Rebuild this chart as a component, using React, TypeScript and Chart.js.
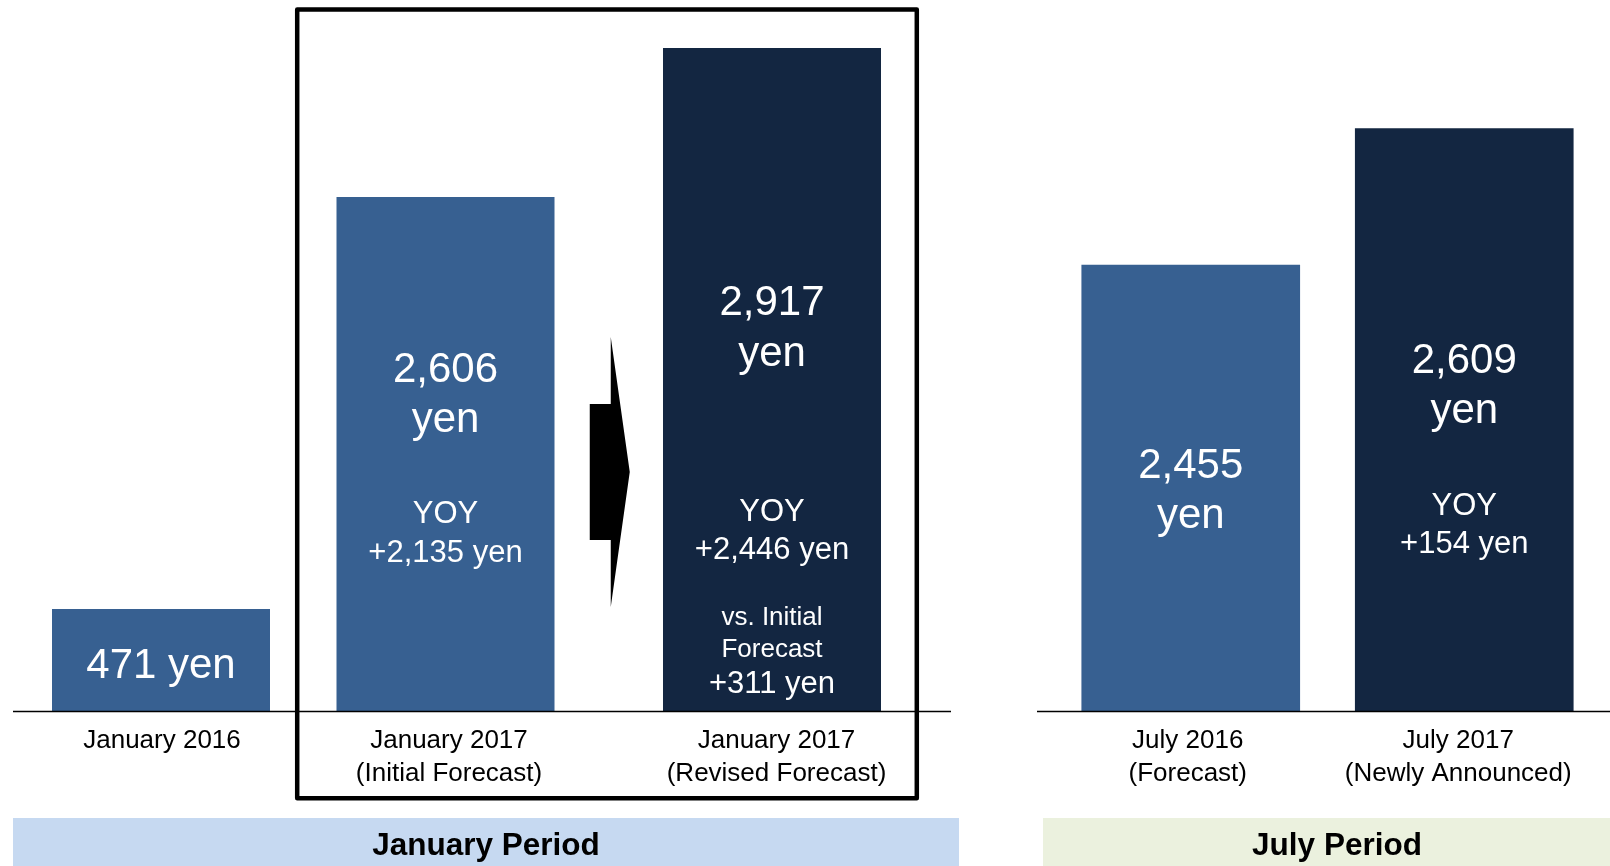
import React, { useEffect, useRef } from 'react';
import { Chart, registerables } from 'chart.js';

Chart.register(...registerables);

// ---------- data ----------
// January period: one bar for 2016, two forecasts (initial / revised) for 2017
const janPeriods = ['January 2016', 'January 2017'];
const janCaptions: string[][] = [
  ['January 2016'],
  ['January 2017', '(Initial Forecast)'],
  ['January 2017', '(Revised Forecast)'],
];
const janPriceYen = [471, 2606, 2917];
const janYoyYen: (number | null)[] = [null, 2135, 2446];
const janVsInitialYen: (number | null)[] = [null, null, 311];
// bar heights as drawn in the source picture (the source bars are not to scale), in yen-axis units
const janActualOrInitialHeights: (number | null)[] = [449, 2261];
const janRevisedHeights: (number | null)[] = [null, 2917];

// July period
const julyPeriods = ['July 2016', 'July 2017'];
const julyCaptions: string[][] = [
  ['July 2016', '(Forecast)'],
  ['July 2017', '(Newly Announced)'],
];
const julyPriceYen = [2455, 2609];
const julyYoyYen: (number | null)[] = [null, 154];
const julyBarHeights = [1962, 2562];

const periodTitles = ['January Period', 'July Period'];
const Y_MAX = 2917;

// ---------- styles ----------
const FONT = '"Liberation Sans", Arial, Helvetica, sans-serif';
const MID_BLUE = '#376091';
const NAVY = '#132641';
const JAN_BAND = '#C6D9F1';
const JULY_BAND = '#EBF1DE';

const fmt = (n: number) => n.toLocaleString('en-US');

type Line = { t: string; size: number; y: number };

const janTexts: Line[][] = [
  [{ t: `${fmt(janPriceYen[0])} yen`, size: 42, y: 678 }],
  [
    { t: fmt(janPriceYen[1]), size: 42, y: 381.5 },
    { t: 'yen', size: 42, y: 431.5 },
    { t: 'YOY', size: 31, y: 523 },
    { t: `+${fmt(janYoyYen[1] as number)} yen`, size: 31, y: 561.5 },
  ],
  [
    { t: fmt(janPriceYen[2]), size: 42, y: 315 },
    { t: 'yen', size: 42, y: 365.5 },
    { t: 'YOY', size: 31, y: 520.5 },
    { t: `+${fmt(janYoyYen[2] as number)} yen`, size: 31, y: 559 },
    { t: 'vs. Initial', size: 26, y: 625 },
    { t: 'Forecast', size: 26, y: 656.5 },
    { t: `+${fmt(janVsInitialYen[2] as number)} yen`, size: 31, y: 693 },
  ],
];

const julyTexts: Line[][] = [
  [
    { t: fmt(julyPriceYen[0]), size: 42, y: 478 },
    { t: 'yen', size: 42, y: 528 },
  ],
  [
    { t: fmt(julyPriceYen[1]), size: 42, y: 372.5 },
    { t: 'yen', size: 42, y: 423 },
    { t: 'YOY', size: 31, y: 515 },
    { t: `+${fmt(julyYoyYen[1] as number)} yen`, size: 31, y: 552.5 },
  ],
];

type PanelCfg = {
  id: string;
  offsetX: number;
  bars: [number, number][]; // [datasetIndex, dataIndex] in drawing order
  captions: string[][];
  captionDx: number[];
  texts: Line[][];
  axis: [number, number];
  band: { x0: number; x1: number; color: string; text: string; textX: number };
  arrow?: boolean;
  box?: { x: number; y: number; w: number; h: number };
};

function makePlugin(cfg: PanelCfg) {
  return {
    id: 'deco_' + cfg.id,
    afterDraw(chart: any) {
      const ctx: CanvasRenderingContext2D = chart.ctx;
      const ox = cfg.offsetX;
      const xs: number[] = cfg.bars.map(([d, i]) => chart.getDatasetMeta(d).data[i].x);
      const yBase: number = chart.scales.y.getPixelForValue(0);
      ctx.save();

      // period band
      ctx.fillStyle = cfg.band.color;
      ctx.fillRect(cfg.band.x0 - ox, 818, cfg.band.x1 - cfg.band.x0, 48);
      ctx.fillStyle = '#000';
      ctx.textAlign = 'center';
      ctx.textBaseline = 'alphabetic';
      ctx.font = `bold 31.5px ${FONT}`;
      ctx.fillText(cfg.band.text, cfg.band.textX - ox, 855);

      // baseline
      ctx.strokeStyle = '#000';
      ctx.lineWidth = 1.5;
      ctx.beginPath();
      ctx.moveTo(cfg.axis[0] - ox, yBase + 0.5);
      ctx.lineTo(cfg.axis[1] - ox, yBase + 0.5);
      ctx.stroke();

      // category captions under each bar
      ctx.fillStyle = '#000';
      ctx.font = `26px ${FONT}`;
      cfg.captions.forEach((lines, i) => {
        lines.forEach((l, j) => ctx.fillText(l, xs[i] + cfg.captionDx[i], yBase + 36.5 + j * 33.5));
      });

      // texts inside bars
      ctx.fillStyle = '#fff';
      cfg.texts.forEach((lines, i) => {
        lines.forEach((l) => {
          ctx.font = `${l.size}px ${FONT}`;
          ctx.fillText(l.t, xs[i], l.y);
        });
      });

      // arrow between bar 2 and bar 3
      if (cfg.arrow && xs.length > 2) {
        const cx = (xs[1] + xs[2]) / 2;
        ctx.fillStyle = '#000';
        ctx.beginPath();
        ctx.moveTo(cx - 19, 404);
        ctx.lineTo(cx + 2, 404);
        ctx.lineTo(cx + 2, 337);
        ctx.lineTo(cx + 21, 472);
        ctx.lineTo(cx + 2, 607);
        ctx.lineTo(cx + 2, 540);
        ctx.lineTo(cx - 19, 540);
        ctx.closePath();
        ctx.fill();
      }

      // highlight box
      if (cfg.box) {
        ctx.strokeStyle = '#000';
        ctx.lineWidth = 4.5;
        ctx.lineJoin = 'round';
        ctx.strokeRect(cfg.box.x - ox, cfg.box.y, cfg.box.w, cfg.box.h);
      }
      ctx.restore();
    },
  };
}

const baseOptions = (padding: { left: number; right: number }) => ({
  responsive: false,
  animation: false as const,
  devicePixelRatio: 1,
  layout: { padding: { left: padding.left, right: padding.right, top: 48, bottom: 155 } },
  plugins: { legend: { display: false }, tooltip: { enabled: false } },
  scales: {
    x: { display: false },
    y: { display: false, min: 0, max: Y_MAX },
  },
});

export default function App() {
  const janRef = useRef<HTMLCanvasElement>(null);
  const julyRef = useRef<HTMLCanvasElement>(null);

  useEffect(() => {
    const janBarOpts = {
      borderWidth: 0,
      skipNull: true,
      categoryPercentage: 1.4584,
      barPercentage: 1,
      maxBarThickness: 218,
      clip: false as const,
    };
    const jan = new Chart(janRef.current!, {
      type: 'bar',
      data: {
        labels: janPeriods,
        datasets: [
          { label: 'Actual / Initial Forecast', data: janActualOrInitialHeights, backgroundColor: MID_BLUE, ...janBarOpts },
          { label: 'Revised Forecast', data: janRevisedHeights, backgroundColor: NAVY, ...janBarOpts },
        ],
      },
      options: baseOptions({ left: 37.125, right: 167.375 }) as any,
      plugins: [
        makePlugin({
          id: 'jan',
          offsetX: -100,
          bars: [[0, 0], [0, 1], [1, 1]],
          captions: janCaptions,
          captionDx: [1, 3.5, 4.5],
          texts: janTexts,
          axis: [13, 951],
          band: { x0: 13, x1: 959, color: JAN_BAND, text: periodTitles[0], textX: 486 },
          arrow: true,
          box: { x: 297.2, y: 9.5, w: 619.6, h: 788.8 },
        }),
      ],
    });
    const july = new Chart(julyRef.current!, {
      type: 'bar',
      data: {
        labels: julyPeriods,
        datasets: [
          { data: julyBarHeights, backgroundColor: [MID_BLUE, NAVY], borderWidth: 0, barThickness: 218, clip: false },
        ],
      },
      options: baseOptions({ left: 54, right: 9 }) as any,
      plugins: [
        makePlugin({
          id: 'july',
          offsetX: 1000,
          bars: [[0, 0], [0, 1]],
          captions: julyCaptions,
          captionDx: [-3, -6],
          texts: julyTexts,
          axis: [1037, 1610],
          band: { x0: 1043, x1: 1610, color: JULY_BAND, text: periodTitles[1], textX: 1337 },
        }),
      ],
    });
    return () => {
      jan.destroy();
      july.destroy();
    };
  }, []);

  return (
    <div style={{ position: 'absolute', left: 0, top: 0, width: 1610, height: 866, background: '#fff', overflow: 'hidden' }}>
      <canvas ref={janRef} width={1100} height={866} style={{ position: 'absolute', left: -100, top: 0, width: 1100, height: 866 }} />
      <canvas ref={julyRef} width={610} height={866} style={{ position: 'absolute', left: 1000, top: 0, width: 610, height: 866 }} />
    </div>
  );
}
